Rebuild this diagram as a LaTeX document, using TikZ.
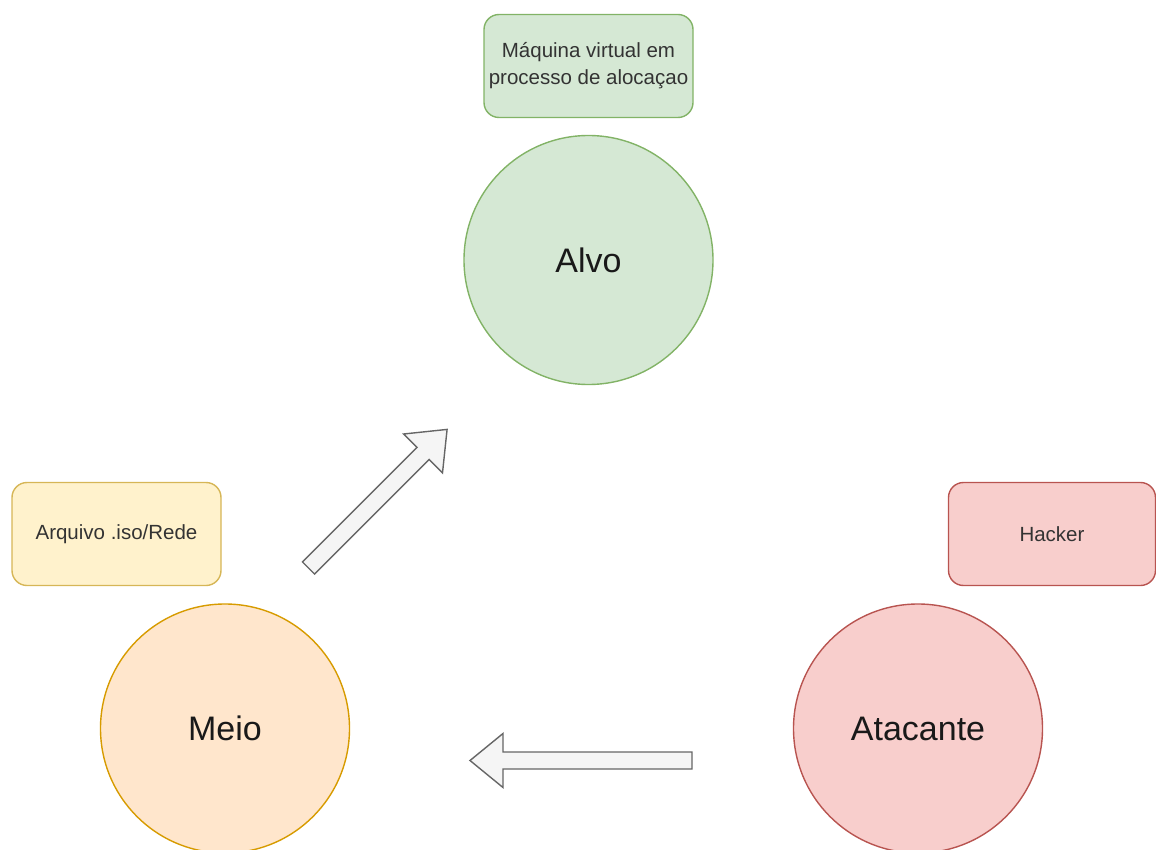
\documentclass[tikz,border=0pt]{standalone}
\usepackage{fontspec}
\setmainfont{Liberation Sans}
\begin{document}
\begin{tikzpicture}[x=1pt,y=-1pt,
  note/.style={draw, rounded corners=15pt, line width=1.4pt, minimum width=207pt,
    minimum height=103pt, inner sep=0pt, align=center, text=black!80,
    font=\fontsize{20.5}{27}\selectfont},
  actor/.style={draw, circle, line width=1.4pt, minimum size=249pt, inner sep=0pt,
    text=black!90, font=\fontsize{34}{40}\selectfont},
  blockarrow/.style={draw=black!60, fill=black!4, line width=1.4pt, line join=miter}
]
\definecolor{gfill}{HTML}{D5E8D4}\definecolor{gline}{HTML}{82B366}
\definecolor{yfill}{HTML}{FFF2CC}\definecolor{yline}{HTML}{D6B656}
\definecolor{ofill}{HTML}{FFE6CC}\definecolor{oline}{HTML}{D79B00}
\definecolor{rfill}{HTML}{F8CECC}\definecolor{rline}{HTML}{B85450}
\useasboundingbox (0,0) rectangle (1156,850);

% the three roles
\node[actor, fill=gfill, draw=gline] (alvo) at (588.5,260) {Alvo};
\node[actor, fill=ofill, draw=oline] (meio) at (225,728.5) {Meio};
\node[actor, fill=rfill, draw=rline] (atacante) at (918,728.5) {Atacante};

% notes beside each role
\node[note, fill=gfill, draw=gline, minimum width=209pt] (vm) at (588.5,66) {Máquina virtual em\\processo de alocaçao};
\node[note, fill=yfill, draw=yline, minimum width=209pt] (iso) at (116.5,534) {Arquivo .iso/Rede};
\node[note, fill=rfill, draw=rline] (hacker) at (1052,534) {Hacker};

% block arrows: tail point, then a shape along the local x axis
\coordinate (a1tail) at (308.5,568);
\coordinate (a2tail) at (692,760.5);
\begin{scope}[shift={(a1tail)}, rotate=45]
  \draw[blockarrow] (0,-8.5) -- (162,-8.5) -- (162,-27.5) -- (196,0)
    -- (162,27.5) -- (162,8.5) -- (0,8.5) -- cycle;
\end{scope}
\begin{scope}[shift={(a2tail)}, rotate=180]
  \draw[blockarrow] (0,-8.5) -- (189,-8.5) -- (189,-27) -- (222,0)
    -- (189,27) -- (189,8.5) -- (0,8.5) -- cycle;
\end{scope}
\end{tikzpicture}
\end{document}
